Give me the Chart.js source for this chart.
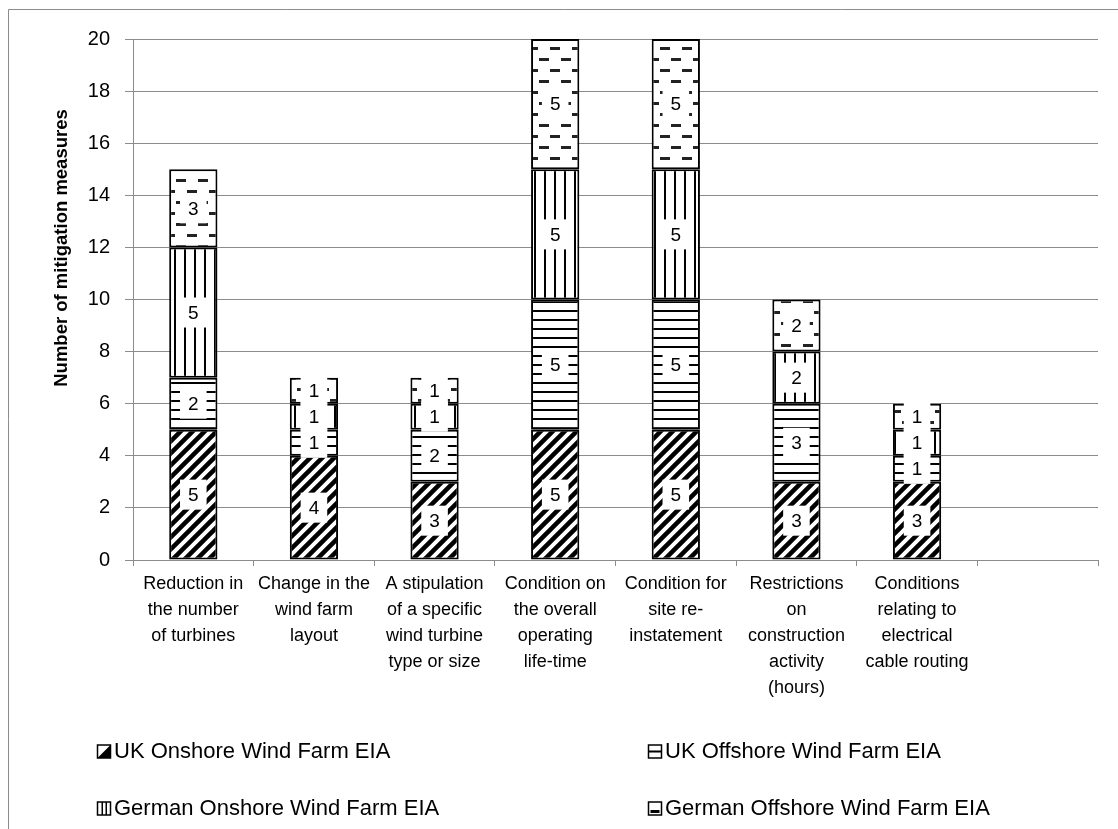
<!DOCTYPE html>
<html>
<head>
<meta charset="utf-8">
<script src="https://cdn.jsdelivr.net/npm/chart.js@4.4.1/dist/chart.umd.min.js"></script>
<style>
  html, body { margin: 0; padding: 0; background: #fff; }
  #wrap { width: 1118px; height: 829px; position: relative; }
</style>
</head>
<body>
<div id="wrap"><canvas id="c" width="1118" height="829"></canvas></div>
<script>
// ---- data ----
const categories = [
  ["Reduction in", "the number", "of turbines"],
  ["Change in the", "wind farm", "layout"],
  ["A stipulation", "of a specific", "wind turbine", "type or size"],
  ["Condition on", "the overall", "operating", "life-time"],
  ["Condition for", "site re-", "instatement"],
  ["Restrictions", "on", "construction", "activity", "(hours)"],
  ["Conditions", "relating to", "electrical", "cable routing"],
  [""]
];
const seriesNames = [
  "UK Onshore Wind Farm EIA",
  "UK Offshore Wind Farm EIA",
  "German Onshore Wind Farm EIA",
  "German Offshore Wind Farm EIA"
];
const ukOnshore      = [5, 4, 3, 5, 5, 3, 3, null];
const ukOffshore     = [2, 1, 2, 5, 5, 3, 1, null];
const germanOnshore  = [5, 1, 1, 5, 5, 2, 1, null];
const germanOffshore = [3, 1, 1, 5, 5, 2, 1, null];
const yTicks = [0, 2, 4, 6, 8, 10, 12, 14, 16, 18, 20];
const yTitle = "Number of mitigation measures";

// ---- patterns ----
function tile(w, h, draw) {
  const c = document.createElement('canvas');
  c.width = w; c.height = h;
  const g = c.getContext('2d');
  g.fillStyle = '#fff'; g.fillRect(0, 0, w, h);
  g.fillStyle = '#000'; g.strokeStyle = '#000';
  draw(g, w, h);
  return document.getElementById('c').getContext('2d').createPattern(c, 'repeat');
}
const patDiag = tile(12, 12, (g, s) => {
  g.lineWidth = 4.5;
  g.beginPath();
  g.moveTo(-s, s); g.lineTo(s, -s);
  g.moveTo(0, s); g.lineTo(s, 0);
  g.moveTo(0, 2 * s); g.lineTo(2 * s, 0);
  g.stroke();
});
const patHoriz = tile(9, 9, (g, w) => { g.fillRect(0, 4, w, 2); });
const patVert = tile(10, 10, (g, w, h) => { g.fillRect(4, 0, 2, h); });
const patDash = tile(22, 22, (g) => {
  g.fillStyle = '#222';
  g.fillRect(0, 3, 10, 3); g.fillRect(11, 14, 10, 3);
});

const seriesData = [ukOnshore, ukOffshore, germanOnshore, germanOffshore];
const seriesFill = [patDiag, patHoriz, patVert, patDash];

const FONT = "'Liberation Sans', Arial, sans-serif";

// ---- plugins ----
const bgPlugin = {
  id: 'bg',
  beforeDraw(chart) {
    const ctx = chart.ctx;
    ctx.save();
    ctx.fillStyle = '#fff';
    ctx.fillRect(0, 0, chart.width, chart.height);
    ctx.strokeStyle = '#8c8c8c';
    ctx.lineWidth = 1;
    ctx.beginPath();
    ctx.moveTo(8.5, chart.height + 5);
    ctx.lineTo(8.5, 9.5);
    ctx.lineTo(chart.width + 5, 9.5);
    ctx.stroke();
    ctx.restore();
  }
};

const titlePlugin = {
  id: 'yTitleDraw',
  afterDraw(chart) {
    const ctx = chart.ctx;
    ctx.save();
    ctx.translate(62, 248);
    ctx.rotate(-Math.PI / 2);
    ctx.font = "bold 18.5px " + FONT;
    ctx.textAlign = 'center';
    ctx.textBaseline = 'middle';
    ctx.fillStyle = '#000';
    ctx.fillText(yTitle, 0, 0);
    ctx.restore();
  }
};

const labelPlugin = {
  id: 'barLabels',
  afterDatasetsDraw(chart) {
    const ctx = chart.ctx;
    ctx.save();
    ctx.font = "19px " + FONT;
    ctx.textAlign = 'center';
    ctx.textBaseline = 'middle';
    chart.data.datasets.forEach((ds, di) => {
      const meta = chart.getDatasetMeta(di);
      meta.data.forEach((el, i) => {
        const v = ds.data[i];
        if (v === null || v === undefined || v === 0) return;
        const cx = el.x;
        const cy = (el.y + el.base) / 2;
        const txt = String(v);
        const w = ctx.measureText(txt).width + 16;
        const h = 30;
        ctx.fillStyle = '#fff';
        ctx.fillRect(cx - w / 2, cy - h / 2, w, h);
        ctx.fillStyle = '#000';
        ctx.fillText(txt, cx, cy + 1);
      });
    });
    ctx.restore();
  }
};

const legendPlugin = {
  id: 'customLegend',
  afterDraw(chart) {
    const ctx = chart.ctx;
    ctx.save();
    const pos = [[97, 751], [648, 751], [97, 808], [648, 808]];
    ctx.font = "22px " + FONT;
    ctx.textBaseline = 'middle';
    ctx.textAlign = 'left';
    seriesNames.forEach((name, i) => {
      const [x, y] = pos[i];
      const s = 13;
      const bx = x + 0.5, by = y - s / 2 + 0.5;
      ctx.fillStyle = '#fff';
      ctx.fillRect(bx, by, s, s);
      ctx.fillStyle = '#000';
      if (i === 0) {
        ctx.beginPath();
        ctx.moveTo(bx + s, by); ctx.lineTo(bx + s, by + s); ctx.lineTo(bx, by + s); ctx.closePath(); ctx.fill();
      } else if (i === 1) {
        ctx.fillRect(bx, by + s / 2 - 1, s, 2);
      } else if (i === 2) {
        ctx.fillRect(bx + 4, by, 1.5, s);
        ctx.fillRect(bx + 8, by, 1.5, s);
      } else {
        ctx.fillRect(bx + 2, by + s - 5, s - 4, 3);
      }
      ctx.strokeStyle = '#000';
      ctx.lineWidth = 1.5;
      ctx.strokeRect(bx, by, s, s);
      ctx.fillStyle = '#000';
      ctx.fillText(name, x + 17, y + 1);
    });
    ctx.restore();
  }
};

// ---- chart ----
const datasets = seriesNames.map((name, i) => ({
  label: name,
  data: seriesData[i],
  backgroundColor: seriesFill[i],
  borderColor: '#000',
  borderWidth: 2,
  borderSkipped: false,
  categoryPercentage: 1.0,
  barPercentage: 0.4
}));

new Chart(document.getElementById('c'), {
  type: 'bar',
  data: { labels: categories, datasets },
  options: {
    responsive: false,
    animation: false,
    events: [],
    layout: { padding: { left: 8, top: 39, right: 20, bottom: 0 } },
    plugins: {
      legend: { display: false },
      tooltip: { enabled: false },
      title: { display: false }
    },
    scales: {
      x: {
        stacked: true,
        offset: true,
        grid: {
          display: true,
          offset: true,
          drawOnChartArea: false,
          drawTicks: true,
          tickLength: 6,
          color: '#8c8c8c',
          lineWidth: 1
        },
        border: { display: true, color: '#8c8c8c', width: 1 },
        ticks: {
          color: '#000',
          font: { family: FONT, size: 18, lineHeight: 1.45 },
          padding: 5,
          maxRotation: 0,
          minRotation: 0,
          autoSkip: false
        },
        afterFit(s) { s.height = 829 - 560; }
      },
      y: {
        stacked: true,
        min: 0,
        max: 20,
        afterBuildTicks(s) { s.ticks = yTicks.map(v => ({ value: v })); },
        grid: {
          color: '#8c8c8c',
          lineWidth: 1,
          drawTicks: true,
          tickLength: 8
        },
        border: { display: true, color: '#8c8c8c', width: 1 },
        ticks: {
          color: '#000',
          font: { family: FONT, size: 20 },
          padding: 15
        },
        title: { display: false },
        afterFit(s) { s.width = 125; }
      }
    }
  },
  plugins: [bgPlugin, labelPlugin, titlePlugin, legendPlugin]
});
</script>
</body>
</html>
